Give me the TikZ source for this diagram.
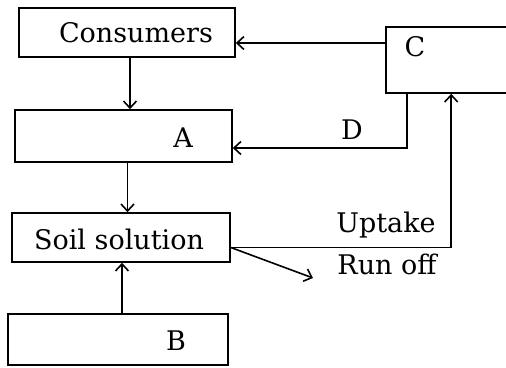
\documentclass[tikz,border=0pt]{standalone}
\usepackage{fontspec}
\setmainfont{DejaVu Serif}
\usetikzlibrary{arrows.meta}
\begin{document}
\begin{tikzpicture}[x=1pt,y=1pt,
  box/.style={draw,line width=1.6pt,rectangle,inner sep=0pt},
  arr/.style={draw,line width=1.6pt,-{Straight Barb[length=7pt,width=13pt,line width=1.6pt]}},
  lbl/.style={font=\fontsize{27}{32}\selectfont,inner sep=0pt}]
\useasboundingbox (0,0) rectangle (506,-367);
\clip (0,0) rectangle (506,-367);
\node[box,minimum width=216pt,minimum height=49pt] (Cons) at (127,-32.5) {};
\node[lbl] (tCons) at (136,-33) {Consumers};
\node[box,minimum width=217pt,minimum height=52pt] (A) at (123.5,-136) {};
\node[lbl] (tA) at (183,-138) {A};
\node[box,minimum width=218pt,minimum height=49pt] (Soil) at (121,-237.5) {};
\node[lbl] (tSoil) at (119,-239) {Soil solution};
\node[box,minimum width=220pt,minimum height=51pt] (B) at (118,-339.5) {};
\node[lbl] (tB) at (176,-341) {B};
\node[box,minimum width=140pt,minimum height=66pt] (C) at (456,-60) {};
\node[lbl] (tC) at (415,-47) {C};
\node[lbl] (tD) at (352,-130) {D};
\node[lbl] (tUp) at (386,-225) {Uptake};
\node[lbl] (tRun) at (387,-264) {Run off};
\coordinate (runend) at (313,-278);
\coordinate (cw) at ([yshift=17pt]C.west);
\draw[arr] (cw) -- (Cons.east |- cw);
\draw[arr] ([xshift=3pt]Cons.south) -- ([xshift=3pt]Cons.south |- A.north);
\draw[arr] ([xshift=22pt]C.south west) |- ([yshift=-12pt]A.east);
\draw[arr] ([xshift=4pt]A.south) -- ([xshift=4pt]A.south |- Soil.north);
\draw[arr] ([xshift=4pt]B.north) -- ([xshift=4pt]B.north |- Soil.south);
\draw[arr] ([yshift=-10pt]Soil.east) -| ([xshift=66pt]C.south west);
\draw[arr] ([yshift=-10pt]Soil.east) -- (runend);
\end{tikzpicture}
\end{document}
